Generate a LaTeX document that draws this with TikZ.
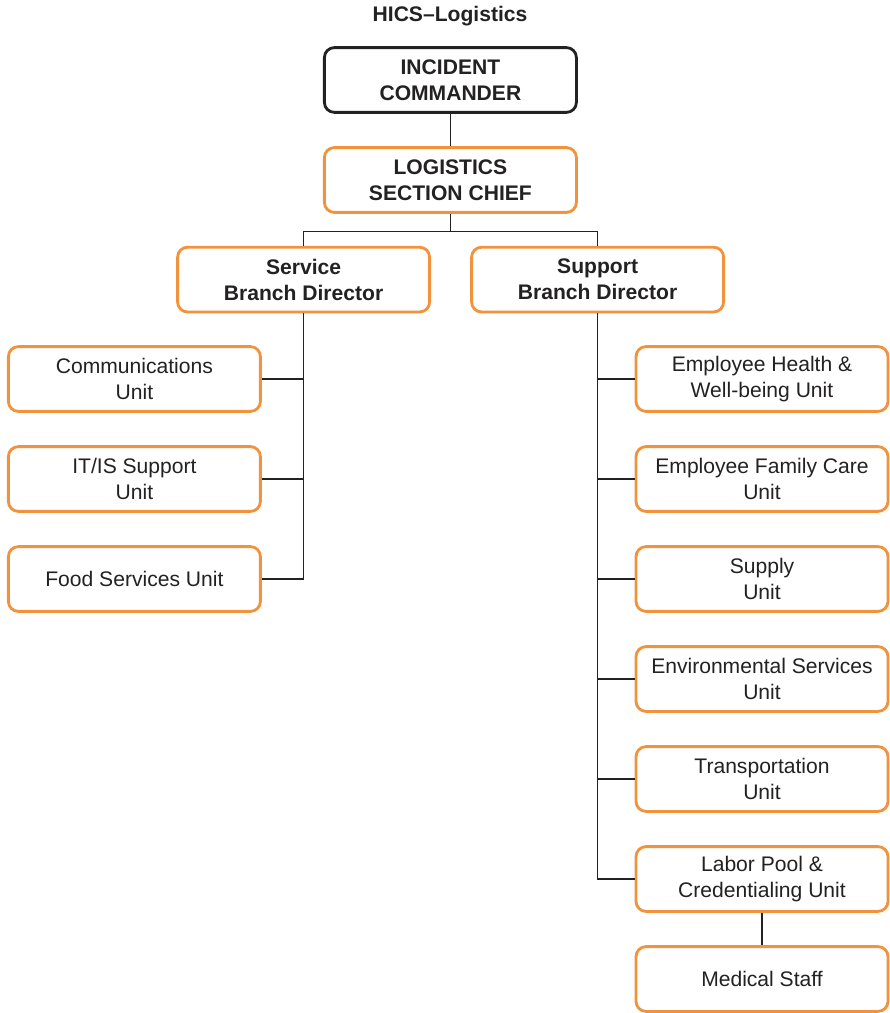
\documentclass[tikz,border=0pt]{standalone}
\usepackage{fontspec}
\setmainfont{Liberation Sans}
\usepackage{tikz}
\usetikzlibrary{positioning,calc}
\definecolor{O}{RGB}{241,146,60}
\definecolor{T}{RGB}{35,33,34}
\tikzstyle{unitbox} = [rectangle,
rounded corners=0.25cm,
line width=2pt,
minimum width=6.3cm,
minimum height=1.62cm, text centered,
align=center, text=T,
font=\fontsize{15}{18.5}\selectfont,
draw=O, fill=white]
\tikzstyle{headbox} = [unitbox, font=\fontsize{15}{18.5}\selectfont\bfseries]
\tikzstyle{link} = [line width=0.9pt, draw=T]

\begin{document}
\begin{tikzpicture}[node distance=2.5cm]
      \useasboundingbox (0,0) rectangle (22.225,-25.325);
      \node[font=\fontsize{15}{18}\selectfont\bfseries, text=T] (title) at (11.25,-0.4) {HICS--Logistics};

      \node[headbox, draw=T]               (ic)   at (11.26,-2.0) {INCIDENT\\COMMANDER};
      \node[headbox, below of=ic]          (lsc)                  {LOGISTICS\\SECTION CHIEF};
      \node[headbox]                       (svc)  at (7.59,-6.99) {Service\\Branch Director};
      \node[headbox]                       (sup)  at (14.94,-6.99) {Support\\Branch Director};

      % service branch
      \node[unitbox]                       (comm) at (3.36,-9.475) {Communications\\Unit};
      \node[unitbox, below of=comm]        (itis)                  {IT/IS Support\\Unit};
      \node[unitbox, below of=itis]        (food)                  {Food Services Unit};

      % support branch
      \node[unitbox]                       (ehw)  at (19.05,-9.475) {Employee Health \&\\Well-being Unit};
      \node[unitbox, below of=ehw]         (efc)                   {Employee Family Care\\Unit};
      \node[unitbox, below of=efc]         (supply)                {Supply\\Unit};
      \node[unitbox, below of=supply]      (env)                   {Environmental Services\\Unit};
      \node[unitbox, below of=env]         (trans)                 {Transportation\\Unit};
      \node[unitbox, below of=trans]       (labor)                 {Labor Pool \&\\Credentialing Unit};
      \node[unitbox, below of=labor]       (med)                   {Medical Staff};

      \draw[link] (ic) -- (lsc);
      \draw[link] (lsc.south) -- ++(0,-0.45) coordinate (fork);
      \draw[link] (svc.north) |- (fork) -| (sup.north);

      \draw[link] (svc.south) |- (food.east);
      \draw[link] (comm.east) -- (comm.east -| svc.south);
      \draw[link] (itis.east) -- (itis.east -| svc.south);

      \draw[link] (sup.south) |- (labor.west);
      \foreach \u in {ehw, efc, supply, env, trans}
        \draw[link] (\u.west) -- (\u.west -| sup.south);
      \draw[link] (labor) -- (med);
    \end{tikzpicture}
\end{document}
